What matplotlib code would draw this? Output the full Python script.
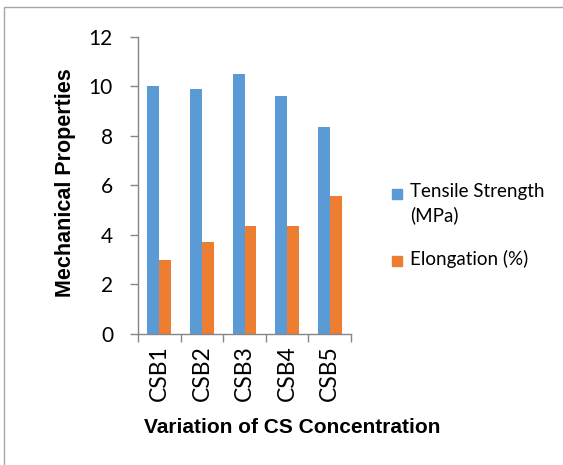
import matplotlib
matplotlib.use('Agg')
import matplotlib.pyplot as plt
import numpy as np
from matplotlib.patches import Rectangle

samples = ['CSB1', 'CSB2', 'CSB3', 'CSB4', 'CSB5']
tensile = [10.0, 9.9, 10.48, 9.61, 8.35]
elongation = [3.0, 3.72, 4.37, 4.37, 5.57]
series_names = ['Tensile Strength\n(MPa)', 'Elongation (%)']
colors = ['#5B9BD5', '#ED7D31']

W, H = 563, 465
fig = plt.figure(figsize=(W / 100, H / 100), dpi=100)
ax = fig.add_axes([138 / W, 1 - 334 / H, (351 - 138) / W, (334 - 36.7) / H])

x = np.arange(len(samples))
bw = 0.28
ax.bar(x - bw / 2, tensile, bw, color=colors[0])
ax.bar(x + bw / 2, elongation, bw, color=colors[1])

ax.set_xlim(-0.5, len(samples) - 0.5)
ax.set_ylim(0, 12)
ax.set_yticks(range(0, 13, 2))
ax.set_xticks(x)
ax.set_xticklabels(samples, rotation=90, fontsize=16.5, family='Lato')
ax.set_xticks(np.arange(-0.5, len(samples), 1), minor=True)
ax.tick_params(axis='x', which='major', length=0, pad=8)
ax.tick_params(axis='x', which='minor', length=6, color='#868686', width=1)
ax.tick_params(axis='y', length=6, color='#868686', width=1, pad=12, labelsize=15)
for lab in ax.get_yticklabels():
    lab.set_family('Lato')

for s in ['top', 'right']:
    ax.spines[s].set_visible(False)
for s in ['left', 'bottom']:
    ax.spines[s].set_color('#868686')
    ax.spines[s].set_linewidth(1)

fig.text(65 / W, 1 - 183 / H, 'Mechanical Properties', rotation=90,
         ha='center', va='center', fontsize=15.5, fontweight='bold',
         family='Liberation Sans')
fig.text(292 / W, 1 - 427 / H, 'Variation of CS Concentration',
         ha='center', va='center', fontsize=15, fontweight='bold',
         family='Liberation Sans')

# legend drawn by hand so the square sits on the first line
leg_y = [194, 261]
for name, c, yy in zip(series_names, colors, leg_y):
    fig.add_artist(Rectangle((392 / W, 1 - (yy + 5) / H), 10 / W, 10 / H,
                             transform=fig.transFigure, color=c))
    fig.text(410 / W, 1 - (yy - 11) / H, name, ha='left', va='top',
             fontsize=13.5, family='Lato', linespacing=1.4)

# outer chart border (open at right and bottom, cropped)
fig.add_artist(Rectangle((4 / W, -0.05), 1.1, 1 - 7 / H + 0.05,
                         transform=fig.transFigure, fill=False,
                         edgecolor='#A6A6A6', linewidth=1))

fig.savefig('out.png', dpi=100)
